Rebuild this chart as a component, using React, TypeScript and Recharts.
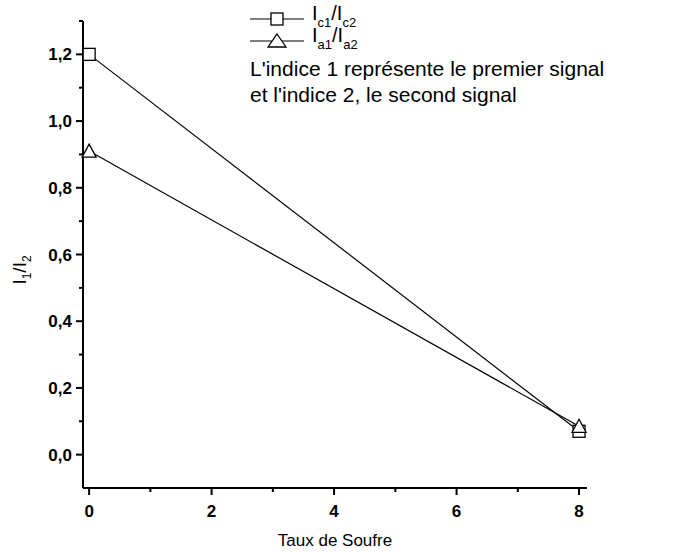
import { LineChart, Line, XAxis, YAxis } from "recharts"

const sulfur = [0, 8]
const ratioC = [1.2, 0.07]
const ratioA = [0.91, 0.085]

const xTicks = [0, 1, 2, 3, 4, 5, 6, 7, 8]
const xMajor = [0, 2, 4, 6, 8]
const yTicks = [0.0, 0.1, 0.2, 0.3, 0.4, 0.5, 0.6, 0.7, 0.8, 0.9, 1.0, 1.1, 1.2, 1.3]
const yMajor = [0.0, 0.2, 0.4, 0.6, 0.8, 1.0, 1.2]

const data = sulfur.map((x, i) => ({ x, c: ratioC[i], a: ratioA[i] }))

const font = "Arial, 'Liberation Sans', sans-serif"

const isMajor = (list: number[], v: number) => list.some((m) => Math.abs(m - v) < 1e-6)

const YTick = (props: any) => {
  const { x, y, payload } = props
  const major = isMajor(yMajor, payload.value)
  return (
    <g>
      <line x1={x} x2={x - (major ? 7 : 4)} y1={y} y2={y} stroke="#000" strokeWidth={2} />
      {major && (
        <text x={x - 11} y={y} dy={6} textAnchor="end" fontSize={17} fontFamily={font} fontWeight="bold" fill="#000">
          {payload.value.toFixed(1).replace(".", ",")}
        </text>
      )}
    </g>
  )
}

const XTick = (props: any) => {
  const { x, y, payload } = props
  const major = isMajor(xMajor, payload.value)
  return (
    <g>
      <line x1={x} x2={x} y1={y} y2={y + (major ? 7 : 4)} stroke="#000" strokeWidth={2} />
      {major && (
        <text x={x} y={y + 29} textAnchor="middle" fontSize={17} fontFamily={font} fontWeight="bold" fill="#000">
          {payload.value}
        </text>
      )}
    </g>
  )
}

const YLabel = () => (
  <text transform="translate(26,270) rotate(-90)" textAnchor="middle" fontFamily={font} fontSize={19} fill="#000">
    I<tspan dy={5} fontSize={12}>1</tspan>
    <tspan dy={-5}>/I</tspan>
    <tspan dy={5} fontSize={12}>2</tspan>
  </text>
)

const SquareDot = (props: any) => {
  const { cx, cy } = props
  return <rect x={cx - 6} y={cy - 6} width={12} height={12} fill="#fff" stroke="#000" strokeWidth={1.3} />
}

const TriangleDot = (props: any) => {
  const { cx, cy } = props
  return <path d={`M${cx},${cy - 7} L${cx + 7},${cy + 6} L${cx - 7},${cy + 6} Z`} fill="#fff" stroke="#000" strokeWidth={1.3} />
}

const subStyle = { fontSize: 13, verticalAlign: -7 }

const LegendBox = () => {
  const row = (marker: React.ReactNode, main: string, s1: string, s2: string) => (
    <div style={{ display: "flex", alignItems: "center", height: 22 }}>
      <svg width={60} height={20}>
        <line x1={0} x2={54} y1={10} y2={10} stroke="#000" strokeWidth={1} />
        {marker}
      </svg>
      <span style={{ fontSize: 20, marginLeft: 2, position: "relative", top: -3 }}>
        {main}
        <span style={subStyle}>{s1}</span>/{main}
        <span style={subStyle}>{s2}</span>
      </span>
    </div>
  )
  return (
    <div style={{ position: "absolute", left: 250, top: 8, width: 430, fontFamily: font, color: "#000", lineHeight: 1 }}>
      {row(<rect x={21} y={4} width={12} height={12} fill="#fff" stroke="#000" strokeWidth={1.3} />, "I", "c1", "c2")}
      {row(<path d="M27,3 L36,16 L18,16 Z" fill="#fff" stroke="#000" strokeWidth={1.3} />, "I", "a1", "a2")}
      <div style={{ fontSize: 21, marginTop: 4, lineHeight: "26px" }}>
        L'indice 1 représente le premier signal
        <br />
        et l'indice 2, le second signal
      </div>
    </div>
  )
}

export default function App() {
  return (
    <div style={{ position: "absolute", left: 0, top: 0, width: 673, height: 553, background: "#fff" }}>
      <LineChart width={673} height={553} data={data} margin={{ top: 21, right: 86, left: 0, bottom: 0 }}>
        <XAxis
          dataKey="x"
          type="number"
          domain={[-0.1, 8.13]}
          ticks={xTicks}
          interval={0}
          height={65}
          tickSize={0}
          tickMargin={0}
          tickLine={false}
          axisLine={{ stroke: "#000", strokeWidth: 2 }}
          tick={<XTick />}
          label={{
            value: "Taux de Soufre",
            position: "insideBottom",
            offset: 0,
            dy: -7,
            style: { fontFamily: font, fontSize: 17, fill: "#000" },
          }}
        />
        <YAxis
          type="number"
          domain={[-0.1, 1.3]}
          ticks={yTicks}
          interval={0}
          width={83}
          tickSize={0}
          tickMargin={0}
          tickLine={false}
          axisLine={{ stroke: "#000", strokeWidth: 2 }}
          tick={<YTick />}
          label={<YLabel />}
        />
        <Line dataKey="c" stroke="#000" strokeWidth={1.2} dot={<SquareDot />} isAnimationActive={false} />
        <Line dataKey="a" stroke="#000" strokeWidth={1.2} dot={<TriangleDot />} isAnimationActive={false} />
      </LineChart>
      <LegendBox />
    </div>
  )
}
